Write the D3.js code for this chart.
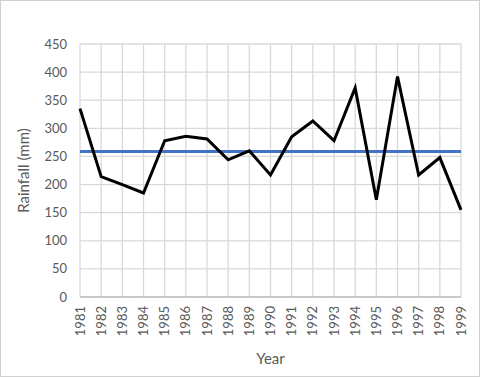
<!DOCTYPE html>
<html>
<head>
<meta charset="utf-8">
<script src="https://cdn.jsdelivr.net/npm/d3@7"></script>
<style>
  body { margin: 0; background: #fff; }
  text { font-family: Lato, "Open Sans", sans-serif; fill: #595959; }
</style>
</head>
<body>
<svg id="chart" width="480" height="377"></svg>
<script>
const years = [1981, 1982, 1983, 1984, 1985, 1986, 1987, 1988, 1989, 1990,
  1991, 1992, 1993, 1994, 1995, 1996, 1997, 1998, 1999];
const rainfall = [335, 214, 200, 185, 278, 286, 281, 244, 260, 217,
  285, 313, 278, 372, 173, 392, 217, 248, 155];
const meanRainfall = 259;
const yTicks = [0, 50, 100, 150, 200, 250, 300, 350, 400, 450];

const width = 480;
const height = 377;
const margin = { left: 80, right: 19, top: 44, bottom: 80 };

const svg = d3.select("#chart");

svg.append("rect")
  .attr("x", 0.5)
  .attr("y", 0.5)
  .attr("width", width - 1)
  .attr("height", height - 1)
  .attr("fill", "#fff")
  .attr("stroke", "#d0d0d0");

const x = d3.scalePoint()
  .domain(years)
  .range([margin.left, width - margin.right]);

const y = d3.scaleLinear()
  .domain([0, 450])
  .range([height - margin.bottom, margin.top]);

// horizontal gridlines
svg.append("g")
  .selectAll("line")
  .data(yTicks)
  .join("line")
  .attr("x1", margin.left)
  .attr("x2", width - margin.right)
  .attr("y1", d => y(d))
  .attr("y2", d => y(d))
  .attr("stroke", "#d9d9d9")
  .attr("stroke-width", 1.3);

// vertical gridlines
svg.append("g")
  .selectAll("line")
  .data(years)
  .join("line")
  .attr("x1", d => x(d))
  .attr("x2", d => x(d))
  .attr("y1", y(450))
  .attr("y2", y(0))
  .attr("stroke", "#d9d9d9")
  .attr("stroke-width", 1.3);

// axis lines
svg.append("line")
  .attr("x1", margin.left)
  .attr("x2", width - margin.right)
  .attr("y1", y(0))
  .attr("y2", y(0))
  .attr("stroke", "#bfbfbf")
  .attr("stroke-width", 1.3);

// y tick labels
svg.append("g")
  .selectAll("text")
  .data(yTicks)
  .join("text")
  .attr("x", 67)
  .attr("y", d => y(d))
  .attr("dy", "0.35em")
  .attr("text-anchor", "end")
  .attr("font-size", 13)
  .text(d => d);

// x tick labels
svg.append("g")
  .selectAll("text")
  .data(years)
  .join("text")
  .attr("transform", d => `translate(${x(d)},${y(0) + 9}) rotate(-90)`)
  .attr("dy", "0.35em")
  .attr("text-anchor", "end")
  .attr("font-size", 13)
  .text(d => d);

// axis titles
svg.append("text")
  .attr("transform", `translate(24,${(y(0) + y(450)) / 2}) rotate(-90)`)
  .attr("text-anchor", "middle")
  .attr("dy", "0.35em")
  .attr("font-size", 15)
  .text("Rainfall (mm)");

svg.append("text")
  .attr("x", (margin.left + width - margin.right) / 2)
  .attr("y", 359)
  .attr("text-anchor", "middle")
  .attr("dy", "0.35em")
  .attr("font-size", 15)
  .text("Year");

// mean line
svg.append("line")
  .attr("x1", x(years[0]))
  .attr("x2", x(years[years.length - 1]))
  .attr("y1", y(meanRainfall))
  .attr("y2", y(meanRainfall))
  .attr("stroke", "#4472c4")
  .attr("stroke-width", 3);

// rainfall line
const line = d3.line()
  .x((d, i) => x(years[i]))
  .y(d => y(d));

svg.append("path")
  .datum(rainfall)
  .attr("d", line)
  .attr("fill", "none")
  .attr("stroke", "#000")
  .attr("stroke-width", 3)
  .attr("stroke-linejoin", "miter");
</script>
</body>
</html>
